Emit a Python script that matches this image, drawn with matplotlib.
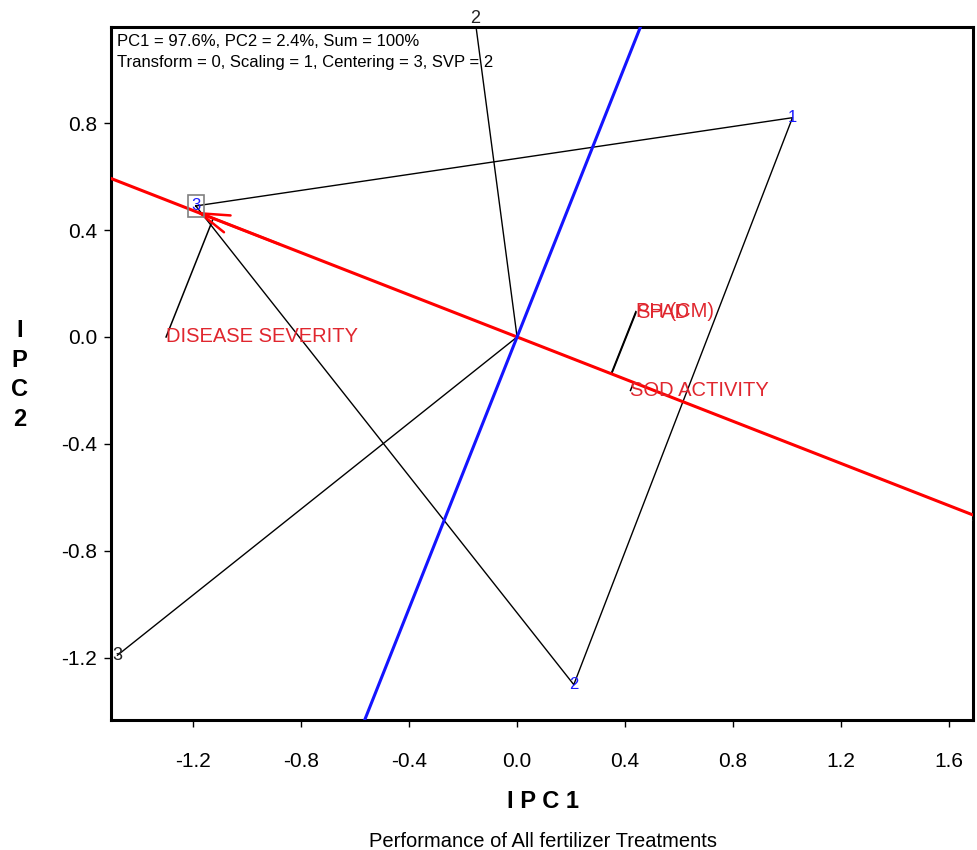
import numpy as np
import matplotlib
matplotlib.use('Agg')
import matplotlib.pyplot as plt

plt.rcParams['font.family'] = ['Liberation Sans', 'DejaVu Sans']

# genotype (treatment) scores
gen_labels = ['1', '2', '3']
gen_x = [1.02, 0.21, -1.19]
gen_y = [0.82, -1.30, 0.49]

# environment scores
env_labels = ['1', '2', '3']
env_x = [1.70, -0.156, -1.48]
env_y = [-0.67, 1.19, -1.19]

# trait scores
trait_labels = ['DISEASE SEVERITY', 'PH (CM)', 'SPAD', 'SOD ACTIVITY']
trait_x = [-1.30, 0.44, 0.44, 0.42]
trait_y = [0.0, 0.095, 0.09, -0.20]

xticks = [-1.2, -0.8, -0.4, 0.0, 0.4, 0.8, 1.2, 1.6]
yticks = [-1.2, -0.8, -0.4, 0.0, 0.4, 0.8]

fig = plt.figure(figsize=(9.78, 8.5), dpi=100)
ax = fig.add_axes([0.1135, 0.153, 0.8815, 0.8152])
ax.set_xlim(-1.504, 1.689)
ax.set_ylim(-1.432, 1.159)

# axis through origin and environment 1, plus its perpendicular
slope = env_y[0] / env_x[0]
ax.axline((0, 0), slope=slope, color='red', lw=2.2, zorder=3)
ax.axline((0, 0), slope=-1 / slope, color='#1414ff', lw=2.2, zorder=3)

# polygon of genotypes
order = [2, 0, 1, 2]
ax.plot([gen_x[i] for i in order], [gen_y[i] for i in order], color='black', lw=1.0, zorder=2)

# environment vectors
for x, y in zip(env_x, env_y):
    ax.plot([0, x], [0, y], color='black', lw=1.0, zorder=2)

# trait projections onto the red axis
u = np.array([1.0, slope]) / np.hypot(1.0, slope)
for x, y in zip(trait_x, trait_y):
    t = x * u[0] + y * u[1]
    ax.plot([x, t * u[0]], [y, t * u[1]], color='black', lw=1.1, zorder=2)

# arrow toward the winning genotype
tip = np.array([gen_x[2], gen_y[2]])
t_tip = tip @ u
tail = (t_tip + 0.35) * u
ax.annotate('', xy=t_tip * u, xytext=tail,
            arrowprops=dict(arrowstyle='->,head_length=0.8,head_width=0.25',
                            color='red', lw=1.8, mutation_scale=26), zorder=4)

# labels
for lab, x, y in zip(gen_labels, gen_x, gen_y):
    kw = {}
    if lab == '3':
        kw['bbox'] = dict(boxstyle='square,pad=0.2', fc='none', ec='#808080', lw=1.2)
    ax.text(x, y, lab, color='#1a1aff', fontsize=12, ha='center', va='center',
            zorder=5, **kw)

for lab, x, y in zip(env_labels, env_x, env_y):
    ax.text(x, y, lab, color='#222222', fontsize=13, ha='center', va='center',
            clip_on=(lab == '1'), zorder=5)

for lab, x, y in zip(trait_labels, trait_x, trait_y):
    ax.text(x, y, lab, color='#e0262e', fontsize=14.5, ha='left', va='center', zorder=5)

ax.text(0.007, 0.99, 'PC1 = 97.6%, PC2 = 2.4%, Sum = 100%\nTransform = 0, Scaling = 1, Centering = 3, SVP = 2',
        transform=ax.transAxes, fontsize=12, ha='left', va='top', linespacing=1.5)

ax.set_xticks(xticks)
ax.set_yticks(yticks)
ax.set_xticklabels([f'{v:.1f}' for v in xticks])
ax.set_yticklabels([f'{v:.1f}' for v in yticks])
ax.tick_params(labelsize=15, length=5, width=1, direction='out')
ax.tick_params(axis='x', pad=18)
ax.tick_params(axis='y', pad=5)
for s in ax.spines.values():
    s.set_linewidth(2.2)

fig.text(0.555, 0.057, 'I P C 1', fontsize=17, fontweight='bold', ha='center', va='center')
fig.text(0.02, 0.559, 'I\nP\nC\n2', fontsize=17, fontweight='bold', ha='center', va='center',
         linespacing=1.36)
fig.text(0.555, 0.01, 'Performance of All fertilizer Treatments', fontsize=14.5, ha='center', va='center')

fig.savefig('out.png', dpi=100)
